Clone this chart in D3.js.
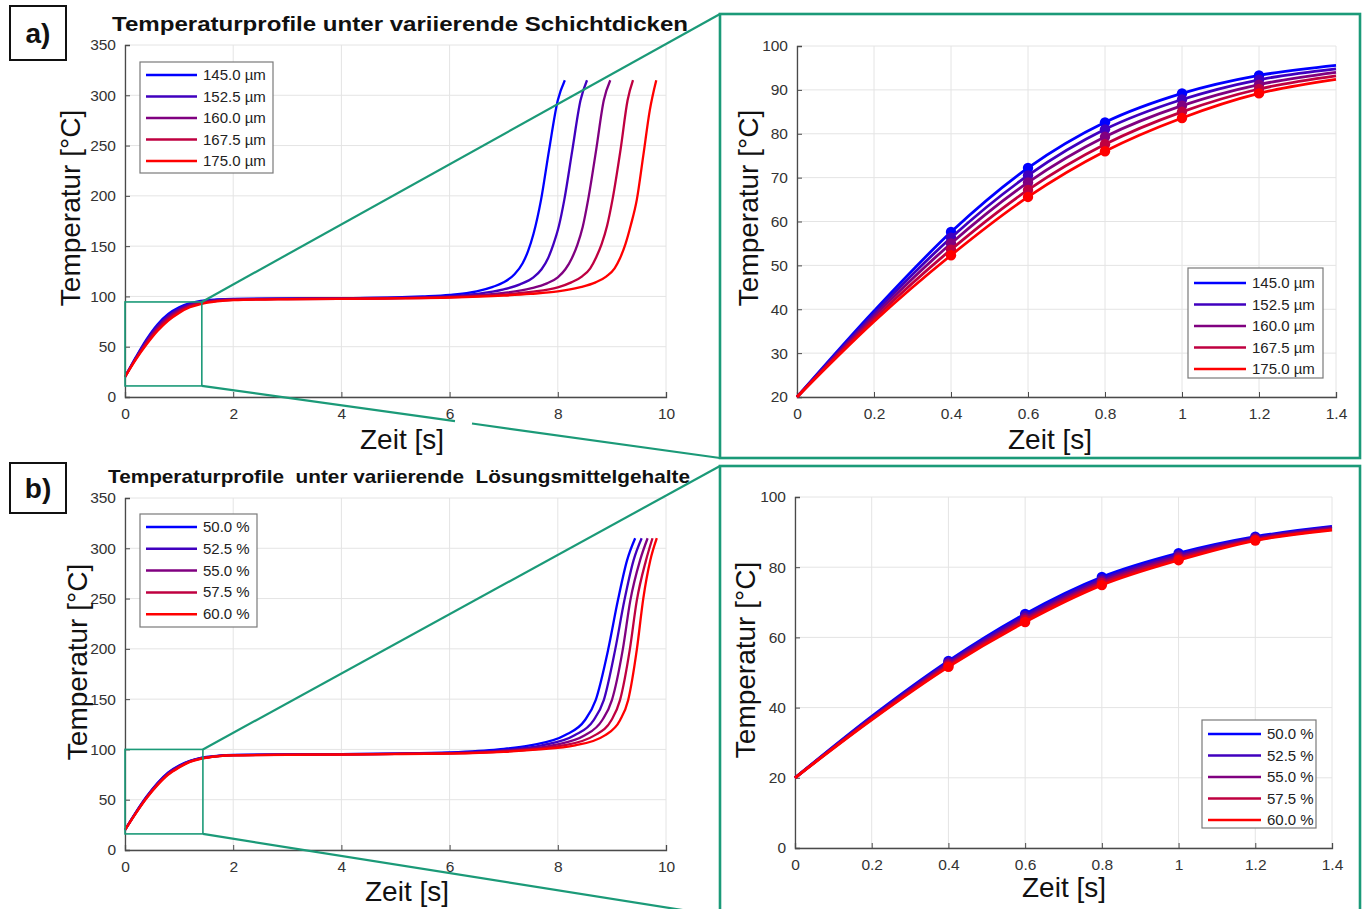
<!DOCTYPE html>
<html><head><meta charset="utf-8">
<script src="https://cdn.jsdelivr.net/npm/d3@7"></script>
<style>body{margin:0;background:#fff} svg{display:block;font-family:"Liberation Sans",Arial,sans-serif}</style>
</head><body><svg id="c" width="1364" height="909"></svg>
<script>
// ---------- DATA ----------
const namesA = ["145.0 µm","152.5 µm","160.0 µm","167.5 µm","175.0 µm"];
const namesB = ["50.0 %","52.5 %","55.0 %","57.5 %","60.0 %"];
const seriesColors = ["#0000ff","#4000bf","#800080","#bf0040","#ff0000"];

// a) Schichtdicken: [Zeit s, Temperatur °C]
const a145 = [[0,20],[0.2,39.6],[0.4,57.6],[0.6,72.2],[0.8,82.6],[1.0,89.2],[1.2,93.3],[1.4,95.6],[1.7,97.0],[2,97.6],[3,98.0],[4,98.3],[5,99.0],[5.5,100],[6,101.5],[6.5,105],[6.8,109.5],[7.0,114],[7.2,122],[7.35,133],[7.45,145],[7.55,162],[7.69,196],[7.84,246],[8.0,295],[8.13,315]];
const a152 = [[0,20],[0.2,39.0],[0.4,56.3],[0.6,70.5],[0.8,81.0],[1.0,87.8],[1.2,92.3],[1.4,94.8],[1.7,96.5],[2,97.3],[3,97.8],[4,98.1],[5,98.7],[6,100.3],[6.5,102.5],[7.0,107],[7.3,112],[7.55,119],[7.7,127],[7.82,138],[7.92,152],[8.02,170],[8.12,196],[8.27,246],[8.42,295],[8.54,315]];
const a160 = [[0,20],[0.2,38.4],[0.4,55.0],[0.6,68.9],[0.8,79.3],[1.0,86.4],[1.2,91.2],[1.4,94.0],[1.7,96.0],[2,97.0],[3,97.6],[4,97.9],[5,98.4],[6,99.6],[7,103.5],[7.5,108],[7.8,113],[8.0,119],[8.14,127],[8.26,138],[8.36,151],[8.46,169],[8.56,196],[8.71,246],[8.85,295],[8.97,315]];
const a167 = [[0,20],[0.2,37.8],[0.4,53.6],[0.6,67.2],[0.8,77.6],[1.0,85.0],[1.2,90.2],[1.4,93.2],[1.7,95.5],[2,96.6],[3,97.4],[4,97.7],[5,98.2],[6,99.2],[7,101.8],[7.5,104.5],[8.0,109],[8.25,114],[8.45,120],[8.6,128],[8.71,139],[8.81,152],[8.91,170],[9.01,196],[9.16,246],[9.29,295],[9.39,315]];
const a175 = [[0,20],[0.2,37.2],[0.4,52.3],[0.6,65.6],[0.8,76.0],[1.0,83.6],[1.2,89.2],[1.4,92.4],[1.7,95.0],[2,96.3],[3,97.2],[4,97.5],[5,98.0],[6,98.8],[7,100.8],[7.5,102.5],[8.0,105],[8.4,109],[8.7,114],[8.9,120],[9.05,128],[9.15,138],[9.25,152],[9.35,171],[9.46,196],[9.58,240],[9.7,285],[9.82,315]];

// b) Lösungsmittelgehalte
const b50 = [[0,20],[0.2,37.5],[0.4,53.3],[0.6,66.7],[0.8,77.2],[1.0,84.0],[1.2,88.7],[1.4,91.6],[1.7,93.5],[2,94.5],[3,95.0],[4,95.3],[5,95.8],[6,97.0],[6.9,100],[7.49,104],[8.13,114],[8.5,129],[8.7,149],[8.93,199],[9.11,248],[9.28,288],[9.43,310]];
const b52 = [[0,20],[0.2,37.2],[0.4,52.9],[0.6,66.1],[0.8,76.6],[1.0,83.5],[1.2,88.4],[1.4,91.4],[1.7,93.4],[2,94.4],[3,94.9],[4,95.2],[5,95.7],[6,96.6],[7,99.2],[7.7,104],[8.31,114],[8.66,129],[8.85,149],[9.06,199],[9.23,248],[9.4,288],[9.55,310]];
const b55 = [[0,20],[0.2,36.9],[0.4,52.5],[0.6,65.5],[0.8,76.0],[1.0,83.0],[1.2,88.1],[1.4,91.1],[1.7,93.3],[2,94.3],[3,94.8],[4,95.1],[5,95.6],[6,96.3],[7,98.6],[7.9,104],[8.5,114],[8.82,129],[9.0,149],[9.2,199],[9.34,248],[9.52,288],[9.66,310]];
const b57 = [[0,20],[0.2,36.7],[0.4,52.0],[0.6,65.0],[0.8,75.5],[1.0,82.5],[1.2,87.8],[1.4,90.8],[1.7,93.2],[2,94.2],[3,94.7],[4,95.0],[5,95.5],[6,96.0],[7,98.0],[8.1,104],[8.68,114],[8.99,129],[9.15,149],[9.33,199],[9.46,248],[9.63,288],[9.75,310]];
const b60 = [[0,20],[0.2,36.5],[0.4,51.6],[0.6,64.4],[0.8,74.9],[1.0,82.0],[1.2,87.6],[1.4,90.6],[1.7,93.0],[2,94.0],[3,94.6],[4,94.9],[5,95.4],[6,95.8],[7,97.5],[7.6,99.8],[8.32,104],[8.87,114],[9.15,129],[9.3,149],[9.46,199],[9.58,250],[9.71,288],[9.83,310]];

const markerTimes = [0.4,0.6,0.8,1.0,1.2];
const ticksMainX = [0,2,4,6,8,10];
const ticksMainY = [0,50,100,150,200,250,300,350];
const ticksZoomX = [0,0.2,0.4,0.6,0.8,1,1.2,1.4];
const ticksZoomYA = [20,30,40,50,60,70,80,90,100];
const ticksZoomYB = [0,20,40,60,80,100];

const dataA = [a145,a152,a160,a167,a175];
const dataB = [b50,b52,b55,b57,b60];

// ---------- DRAWING ----------
const svg = d3.select("#c");
svg.append("rect").attr("width",1364).attr("height",909).attr("fill","#fff");
const GREEN = "#1b9a78";
const AX = "#4a4a4a", GRID = "#e4e4e4", TXT = "#333";

function panel(o){
  const g = svg.append("g");
  const x = d3.scaleLinear().domain(o.xd).range([o.x0,o.x1]);
  const y = d3.scaleLinear().domain(o.yd).range([o.y0,o.y1]);
  g.selectAll(".gx").data(o.xt).join("line").attr("x1",d=>x(d)).attr("x2",d=>x(d))
    .attr("y1",o.y0).attr("y2",o.y1).attr("stroke",GRID).attr("stroke-width",1);
  g.selectAll(".gy").data(o.yt).join("line").attr("y1",d=>y(d)).attr("y2",d=>y(d))
    .attr("x1",o.x0).attr("x2",o.x1).attr("stroke",GRID).attr("stroke-width",1);
  const ax = d3.axisBottom(x).tickValues(o.xt).tickSize(-5).tickPadding(11).tickFormat(d3.format("~g"));
  const ay = d3.axisLeft(y).tickValues(o.yt).tickSize(-5).tickPadding(9).tickFormat(d3.format("~g"));
  const gx = g.append("g").attr("transform",`translate(0,${o.y0})`).call(ax);
  const gy = g.append("g").attr("transform",`translate(${o.x0},0)`).call(ay);
  [gx,gy].forEach(a=>{
    a.select(".domain").attr("stroke",AX).attr("stroke-width",1.3);
    a.selectAll(".tick line").attr("stroke",AX).attr("stroke-width",1);
    a.selectAll(".tick text").attr("fill",TXT).attr("font-size",15.5).attr("font-family","'Liberation Sans',Arial,sans-serif");
  });
  const line = d3.line().x(d=>x(d[0])).y(d=>y(d[1])).curve(d3.curveMonotoneX);
  o.data.forEach((s,i)=>{
    const pts = s.filter(d=>d[0]<=o.xd[1]+1e-9);
    g.append("path").attr("d",line(pts)).attr("fill","none")
      .attr("stroke",seriesColors[i]).attr("stroke-width",o.lw).attr("stroke-linejoin","round");
    if(o.markers){
      g.selectAll(null).data(pts.filter(d=>markerTimes.includes(d[0]))).join("circle")
        .attr("cx",d=>x(d[0])).attr("cy",d=>y(d[1])).attr("r",o.mr).attr("fill",seriesColors[i]);
    }
  });
  g.append("text").attr("transform",`translate(${o.ylx},${o.yly}) rotate(-90)`)
    .attr("text-anchor","middle").attr("font-size",o.lfs).attr("fill","#111").text("Temperatur [°C]");
  g.append("text").attr("x",o.xlx).attr("y",o.xly).attr("text-anchor","middle")
    .attr("font-size",o.lfs).attr("fill","#111").text("Zeit [s]");
  const L = o.leg;
  g.append("rect").attr("x",L.x).attr("y",L.y).attr("width",L.w).attr("height",L.h)
    .attr("fill","#fff").attr("stroke","#7a7a7a").attr("stroke-width",1.2);
  o.names.forEach((n,i)=>{
    const yy = L.y + L.first + i*L.step;
    g.append("line").attr("x1",L.x+6).attr("x2",L.x+6+L.ll).attr("y1",yy).attr("y2",yy)
      .attr("stroke",seriesColors[i]).attr("stroke-width",2.5);
    g.append("text").attr("x",L.x+L.ll+12).attr("y",yy+5).attr("font-size",15).attr("fill","#222").text(n);
  });
  return {x,y};
}

const pA = panel({x0:125,x1:666,y0:397,y1:45,xd:[0,10],yd:[0,350],xt:ticksMainX,yt:ticksMainY,
  data:dataA,names:namesA,lw:2.3,markers:false,lfs:28,ylx:80,yly:208,xlx:402,xly:449,
  leg:{x:140,y:62,w:133,h:111,first:13,step:21.5,ll:51}});
const pAz = panel({x0:797,x1:1336,y0:397,y1:46,xd:[0,1.4],yd:[20,100],xt:ticksZoomX,yt:ticksZoomYA,
  data:dataA,names:namesA,lw:2.8,markers:true,mr:5.2,lfs:28,ylx:758,yly:208,xlx:1050,xly:449,
  leg:{x:1188,y:268,w:135,h:110,first:15,step:21.5,ll:52}});
const pB = panel({x0:125,x1:666,y0:850,y1:498,xd:[0,10],yd:[0,350],xt:ticksMainX,yt:ticksMainY,
  data:dataB,names:namesB,lw:2.3,markers:false,lfs:28,ylx:87,yly:662,xlx:407,xly:901,
  leg:{x:140,y:514,w:117,h:113,first:13,step:21.8,ll:51}});
const pBz = panel({x0:795,x1:1332,y0:848,y1:497,xd:[0,1.4],yd:[0,100],xt:ticksZoomX,yt:ticksZoomYB,
  data:dataB,names:namesB,lw:2.8,markers:true,mr:5.2,lfs:28,ylx:755,yly:660,xlx:1064,xly:897,
  leg:{x:1202,y:720,w:114,h:108,first:14,step:21.5,ll:53}});

// titles
svg.append("text").attr("x",400).attr("y",31).attr("text-anchor","middle")
  .attr("font-family","'Liberation Sans Narrow','Arial Narrow',sans-serif").attr("font-weight","bold")
  .attr("font-size",21).attr("textLength",576).attr("lengthAdjust","spacingAndGlyphs")
  .attr("fill","#111").text("Temperaturprofile unter variierende Schichtdicken");
svg.append("text").attr("x",399).attr("y",483).attr("text-anchor","middle").style("white-space","pre")
  .attr("font-family","'Liberation Sans Narrow','Arial Narrow',sans-serif").attr("font-weight","bold")
  .attr("font-size",19).attr("textLength",582).attr("lengthAdjust","spacingAndGlyphs")
  .attr("fill","#111").text("Temperaturprofile  unter variierende  Lösungsmittelgehalte");

// panel tags
[["a)",10,6,54],["b)",10,463,50]].forEach(([t,x,y,h])=>{
  svg.append("rect").attr("x",x).attr("y",y).attr("width",56).attr("height",h)
    .attr("fill","#fff").attr("stroke","#111").attr("stroke-width",2);
  svg.append("text").attr("x",x+28).attr("y",y+h/2+10).attr("text-anchor","middle")
    .attr("font-size",28).attr("font-weight","bold").attr("fill","#111").text(t);
});

// zoom frames and connectors
function zoomBox(p, t1, T0, T1, frame, gap){
  const x0 = p.x(0), x1 = p.x(t1), yT = p.y(T1), yB = p.y(T0);
  svg.append("rect").attr("x",x0).attr("y",yT).attr("width",x1-x0).attr("height",yB-yT)
    .attr("fill","none").attr("stroke",GREEN).attr("stroke-width",1.6);
  svg.append("rect").attr("x",frame.x).attr("y",frame.y).attr("width",frame.w).attr("height",frame.h)
    .attr("fill","none").attr("stroke",GREEN).attr("stroke-width",2.6);
  svg.append("line").attr("x1",x1).attr("y1",yT).attr("x2",frame.x).attr("y2",frame.y)
    .attr("stroke",GREEN).attr("stroke-width",2.2);
  const bx = frame.x, by = frame.y+frame.h;
  if(gap){
    const f = v=>yB+(by-yB)*(v-x1)/(bx-x1);
    svg.append("line").attr("x1",x1).attr("y1",yB).attr("x2",gap[0]).attr("y2",f(gap[0])).attr("stroke",GREEN).attr("stroke-width",2.2);
    svg.append("line").attr("x1",gap[1]).attr("y1",f(gap[1])).attr("x2",bx).attr("y2",by).attr("stroke",GREEN).attr("stroke-width",2.2);
  } else {
    svg.append("line").attr("x1",x1).attr("y1",yB).attr("x2",bx).attr("y2",by).attr("stroke",GREEN).attr("stroke-width",2.2);
  }
}
zoomBox(pA, 1.42, 11, 94.5, {x:720,y:14,w:640,h:444}, [455,472]);
zoomBox(pB, 1.44, 16, 100, {x:720,y:466,w:640,h:450}, null);
</script></body></html>
